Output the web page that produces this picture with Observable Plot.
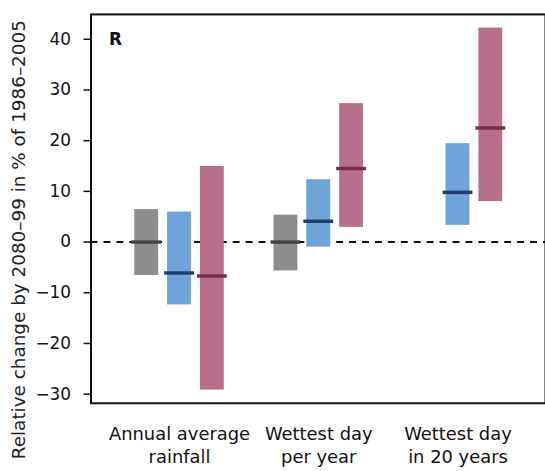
<!DOCTYPE html>
<html>
<head>
<meta charset="utf-8">
<script src="https://cdn.jsdelivr.net/npm/d3@7"></script>
<script src="https://cdn.jsdelivr.net/npm/@observablehq/plot@0.6"></script>
<style>
  html, body { margin: 0; padding: 0; background: #fff; overflow: hidden; }
  #wrap { width: 545px; height: 471px; overflow: hidden; }
</style>
</head>
<body>
<div id="wrap"></div>
<script>
// Categories
const groups = ["Annual average\nrainfall", "Wettest day\nper year", "Wettest day\nin 20 years"];
const scenarios = ["Historical", "RCP4.5", "RCP8.5"];
const yTicks = [-30, -20, -10, 0, 10, 20, 30, 40];

// Ranges (low / high) and medians, % change, per scenario per group
const histLow  = [-6.6, -5.7, null];
const histHigh = [6.4, 5.3, null];
const histMed  = [0, 0, null];
const rcp45Low  = [-12.4, -1.0, 3.3];
const rcp45High = [5.9, 12.3, 19.4];
const rcp45Med  = [-6.1, 4.1, 9.8];
const rcp85Low  = [-29.2, 2.9, 8.0];
const rcp85High = [14.9, 27.3, 42.2];
const rcp85Med  = [-6.7, 14.5, 22.5];

const lows = [histLow, rcp45Low, rcp85Low];
const highs = [histHigh, rcp45High, rcp85High];
const meds = [histMed, rcp45Med, rcp85Med];

const barColors = ["#8d8d8d", "#6ea4da", "#b7708b"];
const medColors = ["#454545", "#1d3f68", "#7a2d4b"];
const offsets = [-33, 0, 33];

const rows = [];
scenarios.forEach((s, si) => {
  groups.forEach((g, gi) => {
    if (lows[si][gi] != null) rows.push({scenario: s, si, group: g, lo: lows[si][gi], hi: highs[si][gi], med: meds[si][gi]});
  });
});

const marks = [
  Plot.ruleY([0], {stroke: "#111", strokeWidth: 2, strokeDasharray: "7,6"})
];
scenarios.forEach((s, si) => {
  const d = rows.filter(r => r.si === si);
  marks.push(Plot.barY(d, {x: "group", y1: "lo", y2: "hi", fill: barColors[si], dx: offsets[si]}));
  marks.push(Plot.tickY(d, {x: "group", y: "med", stroke: medColors[si], strokeWidth: 3.5, dx: offsets[si], insetLeft: -3, insetRight: -3}));
});
marks.push(
  Plot.frame({stroke: "#111", strokeWidth: 2}),
  Plot.axisY({ticks: yTicks, tickSize: 7, tickPadding: 13, fontSize: 17, label: null, strokeWidth: 1.5}),
  Plot.axisX({tickSize: 0, tickPadding: 21, fontSize: 18, lineHeight: 1.28, label: null}),
  Plot.text(["R"], {frameAnchor: "top-left", dx: 18, dy: 19, fontWeight: "bold", fontSize: 17, fill: "#111"}),
  Plot.text(["Relative change by 2080\u201399 in % of 1986\u20132005"], {frameAnchor: "left", textAnchor: "middle", rotate: -90, dx: -72, dy: 31, fontSize: 18.5, fill: "#222"})
);

const chart = Plot.plot({
  width: 548,
  height: 471,
  marginLeft: 91,
  marginRight: 0,
  marginTop: 14,
  marginBottom: 66,
  style: {fontFamily: "DejaVu Sans", color: "#111", background: "#fff", overflow: "visible"},
  x: {type: "band", domain: groups, paddingInner: 0.829, paddingOuter: 0.541, axis: null},
  y: {domain: [-31.8, 44.9], axis: null},
  marks
});
document.getElementById("wrap").appendChild(chart);
</script>
</body>
</html>
